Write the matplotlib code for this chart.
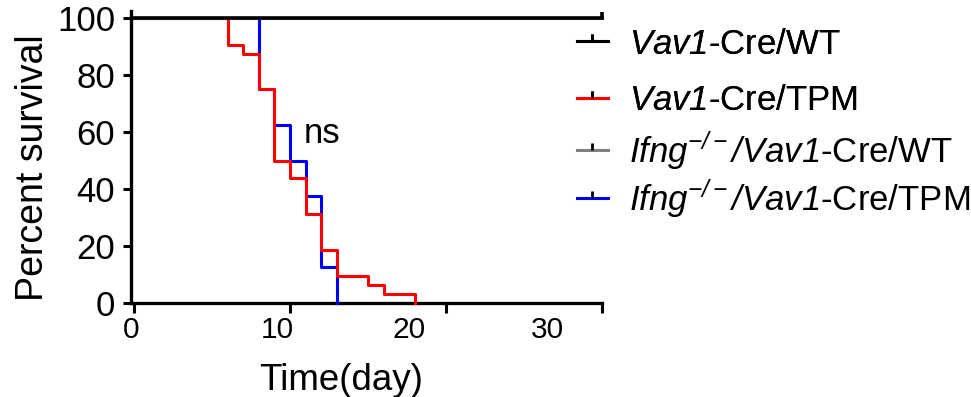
import matplotlib
matplotlib.use("Agg")
import matplotlib.pyplot as plt
from matplotlib.lines import Line2D

plt.rcParams['font.family'] = ['Liberation Sans', 'DejaVu Sans']
plt.rcParams['mathtext.fontset'] = 'custom'
plt.rcParams['mathtext.rm'] = 'Liberation Sans:italic'
plt.rcParams['mathtext.it'] = 'Liberation Sans:italic'
plt.rcParams['mathtext.bf'] = 'Liberation Sans:bold'

# ---- data ----
series_labels = [r'$\mathrm{Vav1}$-Cre/WT',
                 r'$\mathrm{Vav1}$-Cre/TPM',
                 r'$\mathrm{Ifng}^{-/-}\mathrm{/Vav1}$-Cre/WT',
                 r'$\mathrm{Ifng}^{-/-}\mathrm{/Vav1}$-Cre/TPM']
series_colors = ['#000000', '#ff0000', '#808080', '#0000ff']

wt_time = [0, 30]
wt_surv = [100, 100]
tpm_time = [0, 6, 7, 8, 9, 10, 11, 12, 13, 15, 16, 18]
tpm_surv = [100, 90.625, 87.5, 75, 50, 43.75, 31.25, 18.75, 9.375, 6.25, 3.125, 0]
ifng_wt_time = [0, 30]
ifng_wt_surv = [100, 100]
ifng_tpm_time = [0, 8, 9, 10, 11, 12, 13]
ifng_tpm_surv = [100, 75, 62.5, 50, 37.5, 12.5, 0]

x_ticks = [0, 10, 20, 30]
x_tick_labels = ['0', '10', '20', '30']
x_label_pos = [-0.2, 9.2, 17.65, 26.5]   # labels appear shifted in the source
y_ticks = [0, 20, 40, 60, 80, 100]

fig = plt.figure(figsize=(9.71, 3.97), dpi=100)
ax = fig.add_axes([131/971, 1 - 303/397, (602-131)/971, (303-11)/397])

lw = 2.2
ax.step(ifng_tpm_time, ifng_tpm_surv, where='post', color=series_colors[3], lw=lw, clip_on=False, zorder=3)
ax.step(tpm_time, tpm_surv, where='post', color=series_colors[1], lw=lw, clip_on=False, zorder=4)
ax.step(ifng_wt_time, ifng_wt_surv, where='post', color=series_colors[2], lw=lw, clip_on=False, zorder=5)
ax.plot(wt_time, wt_surv, color=series_colors[0], lw=2.6, clip_on=False, zorder=6)
ax.plot([wt_time[-1]], [wt_surv[-1]], marker=2, color=series_colors[0], ms=4, mew=2.6,
        clip_on=False, zorder=6)

ax.set_xlim(0, 30)
ax.set_ylim(0, 102.5)
for s in ['top', 'right']:
    ax.spines[s].set_visible(False)
for s in ['left', 'bottom']:
    ax.spines[s].set_linewidth(2.4)

ax.set_yticks(y_ticks)
ax.set_yticklabels([str(v) for v in y_ticks])
ax.tick_params(axis='y', which='major', direction='out', length=6, width=2.2,
               labelsize=25, pad=5.5)
ax.set_xticks(x_ticks)
ax.set_xticklabels([''] * len(x_ticks))
ax.tick_params(axis='x', which='major', direction='out', length=7, width=2.2)
ax.set_xticks(x_label_pos, minor=True)
ax.set_xticklabels(x_tick_labels, minor=True)
ax.tick_params(axis='x', which='minor', length=0, labelsize=21.5, pad=9)

ax.set_xlabel('Time(day)', fontsize=26.5)
ax.xaxis.set_label_coords((341-131)/(602-131), -0.205)
ax.set_ylabel('Percent survival', fontsize=27)
ax.yaxis.set_label_coords(-0.17, 0.465)

ax.text(10.85, 56.2, 'ns', fontsize=25, ha='left', va='baseline')

handles = [Line2D([0], [0], color=c, lw=2.2, marker=2, ms=5, mew=2, mec='#000000')
           for c in series_colors]
common = dict(loc='upper left', frameon=False, fontsize=25, handlelength=0.89,
              handletextpad=0.6, numpoints=1, borderpad=0, borderaxespad=0)
leg_a = fig.legend(handles[:2], series_labels[:2],
                   bbox_to_anchor=(577/971, 1 - 27.5/397), labelspacing=0.67, **common)
fig.add_artist(leg_a)
leg_b = fig.legend(handles[2:], series_labels[2:],
                   bbox_to_anchor=(577/971, 1 - 129/397), labelspacing=0.16, **common)

fig.savefig('out.png', dpi=100)
